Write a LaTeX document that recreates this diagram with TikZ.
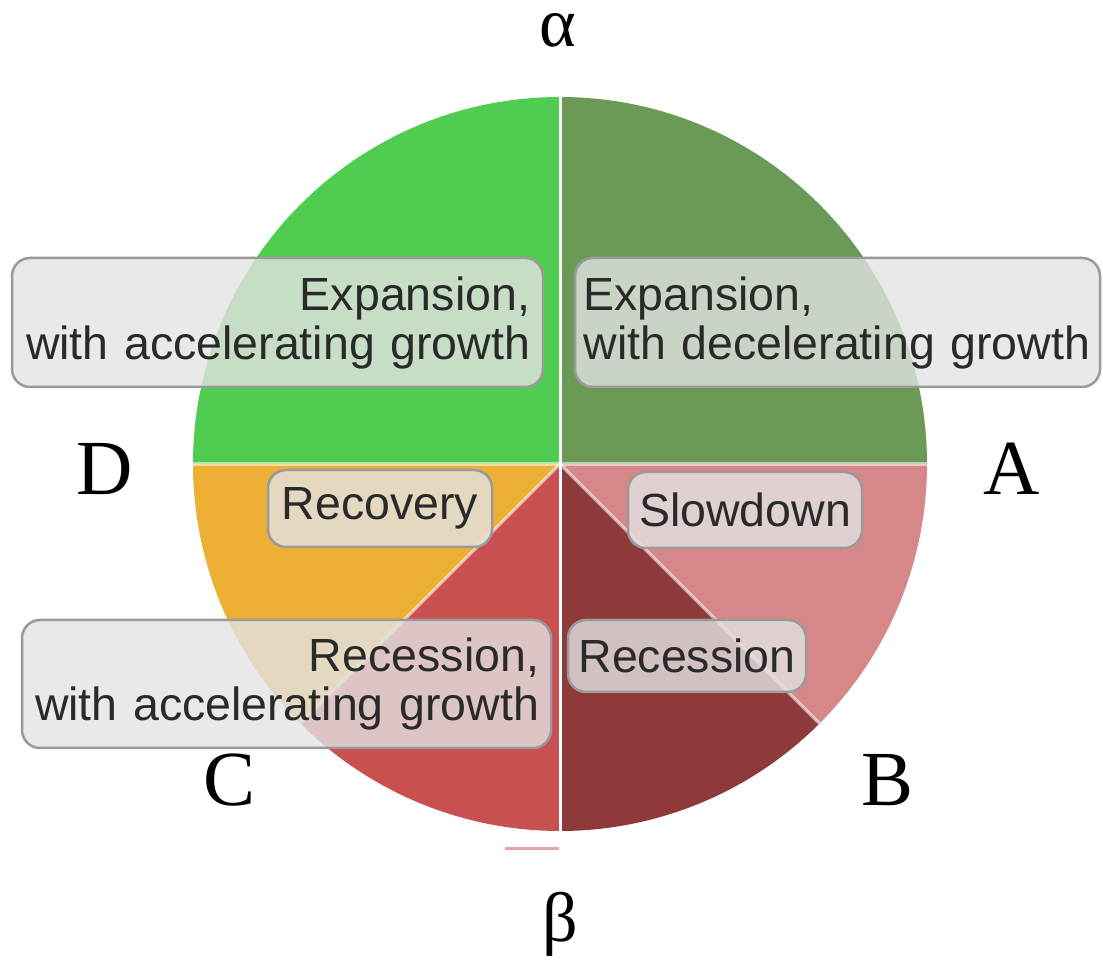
\documentclass[tikz,border=0pt]{standalone}
\usepackage{fontspec}
\setmainfont{Liberation Serif}
\newfontfamily\boxfont{Liberation Sans}
\definecolor{cLG}{HTML}{50CC50}
\definecolor{cDG}{HTML}{6A9A55}
\definecolor{cPK}{HTML}{D68888}
\definecolor{cDR}{HTML}{8E3A3A}
\definecolor{cRD}{HTML}{C85050}
\definecolor{cOR}{HTML}{EDB035}
\definecolor{boxgray}{HTML}{9A9A9A}
\definecolor{boxfill}{HTML}{E3E3E3}
\definecolor{txt}{HTML}{2A2A2A}
\definecolor{pinkline}{HTML}{E4A4A4}
\begin{document}
\begin{tikzpicture}[x=1pt,y=1pt,
  sep/.style={white,line width=3},
  softsep/.style={white,line width=3.5,opacity=0.55},
  infobox/.style={draw=boxgray,line width=2.5,fill=boxfill,fill opacity=0.8,draw opacity=1,text opacity=1,
    rounded corners=18,inner sep=0pt,text=txt,font=\boxfont\fontsize{46.5}{49}\selectfont},
  letter/.style={anchor=base,inner sep=0pt,text height=36,text depth=0,font=\fontsize{78}{80}\selectfont,text=black},
  greek/.style={letter,font=\fontsize{70}{72}\selectfont}]
\useasboundingbox (0,0) rectangle (1103,961);
\def\R{367}
\coordinate (O) at (560,497);
% sectors
\fill[cDG] (O) -- ++(0:\R) arc[start angle=0,end angle=90,radius=\R] -- cycle;
\fill[cLG] (O) -- ++(90:\R) arc[start angle=90,end angle=180,radius=\R] -- cycle;
\fill[cOR] (O) -- ++(180:\R) arc[start angle=180,end angle=225,radius=\R] -- cycle;
\fill[cRD] (O) -- ++(225:\R) arc[start angle=225,end angle=270,radius=\R] -- cycle;
\fill[cDR] (O) -- ++(270:\R) arc[start angle=270,end angle=315,radius=\R] -- cycle;
\fill[cPK] (O) -- ++(315:\R) arc[start angle=315,end angle=360,radius=\R] -- cycle;
% separators
\path (O) ++(90:\R) coordinate (T);
\path (O) ++(270:\R) coordinate (Bt);
\path (O) ++(180:\R) coordinate (L);
\path (O) ++(0:\R) coordinate (Rt);
\path (O) ++(315:\R) coordinate (SE);
\path (O) ++(225:\R) coordinate (SW);
\draw[softsep] (L) -- (Rt);
\draw[softsep] (O) -- (SE);
\draw[softsep] (O) -- (SW);
\draw[sep] (T) -- (Bt);
% small line below the circle
\coordinate (p1) at (505,112);
\coordinate (p2) at (559,112);
\draw[pinkline,line width=3] (p1) -- (p2);
% boxes
\node[infobox,minimum width=531,minimum height=129,text width=505,align=right] (ea) at (277.5,638.5)
  {\mbox{Expansion,}\\\mbox{with accelerating growth}};
\node[infobox,minimum width=525,minimum height=129,text width=508,align=left] (ed) at (837.5,638.5)
  {\mbox{Expansion,}\\\mbox{with decelerating growth}};
\node[infobox,minimum width=224,minimum height=77] (rec) at (380,452.5) {Recovery};
\node[infobox,minimum width=234,minimum height=76] (slow) at (745,451) {Slowdown};
\node[infobox,minimum width=529,minimum height=128,text width=505,align=right] (ra) at (286.5,277)
  {\mbox{Recession,}\\\mbox{with accelerating growth}};
\node[infobox,minimum width=238,minimum height=72] (recs) at (687,305) {Recession};
% letters
\node[greek] (alpha) at (558,914) {α};
\node[greek] (beta) at (560,19) {β};
\node[letter] (A) at (1012,466) {A};
\node[letter] (D) at (105,466) {D};
\node[letter] (C) at (230,155) {C};
\node[letter] (B) at (888,155) {B};
\end{tikzpicture}
\end{document}
